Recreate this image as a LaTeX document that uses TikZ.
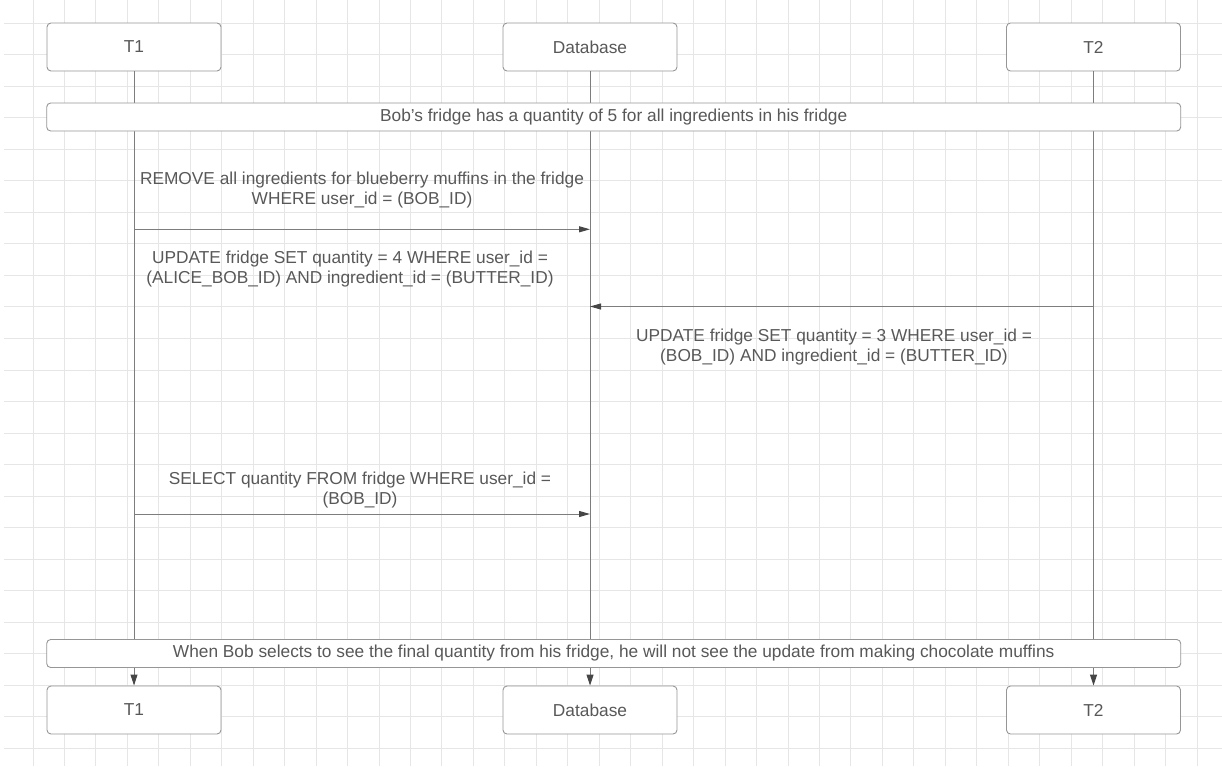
\documentclass[tikz,border=0pt]{standalone}
\usepackage{fontspec}
\setmainfont{Liberation Sans}
\usetikzlibrary{arrows.meta,positioning}
\definecolor{gridgray}{RGB}{230,230,230}
\definecolor{boxgray}{RGB}{150,150,150}
\definecolor{linegray}{RGB}{125,125,125}
\definecolor{tipgray}{RGB}{70,70,70}
\definecolor{textgray}{RGB}{88,88,88}

\begin{document}
\begin{tikzpicture}[x=1pt, y=-1pt,
  actor/.style={draw=boxgray, fill=white, line width=0.9pt, rounded corners=4pt,
    minimum width=174pt, minimum height=48pt, inner sep=0pt,
    text=textgray, font=\fontsize{17.3}{20.5}\selectfont},
  notebox/.style={draw=boxgray, fill=white, line width=0.9pt, rounded corners=4pt,
    minimum width=1134pt, minimum height=28pt, inner sep=0pt,
    text=textgray, font=\fontsize{17.3}{20.5}\selectfont},
  life/.style={linegray, line width=1pt, -{Triangle[length=11pt,width=7pt,color=tipgray]}},
  msg/.style={linegray, line width=1pt, -{Triangle[length=11pt,width=6pt,color=tipgray]}},
  lbl/.style={text=textgray, align=center, inner sep=0pt,
    font=\fontsize{17.3}{20.5}\selectfont}]
  \useasboundingbox (0,0) rectangle (1222,766);
  % --- background grid
  \foreach \gx in {0,...,37}
    \draw[gridgray, line width=1pt] ({33+31.46*\gx},0) -- ({33+31.46*\gx},766);
  \foreach \gy in {0,...,23}
    \draw[gridgray, line width=1pt] (4,{23.3+31.52*\gy}) -- (1222,{23.3+31.52*\gy});
  % --- participants
  \node[actor] (t1top) at (134,47) {T1};
  \node[actor] (dbtop) at (590,47) {Database};
  \node[actor] (t2top) at (1093.5,47) {T2};
  \node[actor] (t1bot) at (134,710) {T1};
  \node[actor] (dbbot) at (590,710) {Database};
  \node[actor] (t2bot) at (1093.5,710) {T2};
  % --- lifelines
  \draw[life] (t1top) -- (t1bot);
  \draw[life] (dbtop) -- (dbbot);
  \draw[life] (t2top) -- (t2bot);
  % --- notes across all lifelines
  \node[notebox] (start) at (613.7,117) {\raisebox{-2pt}{Bob's fridge has a quantity of 5 for all ingredients in his fridge}};
  \node[notebox] (final) at (613.7,653.5) {\raisebox{-2pt}{When Bob selects to see the final quantity from his fridge, he will not see the update from making chocolate muffins}};
  % --- messages
  \coordinate (y1) at (0,229.3);
  \coordinate (y2) at (0,306.5);
  \coordinate (y3) at (0,514);
  \draw[msg] (t1top |- y1) -- (dbtop |- y1);
  \draw[msg] (t2top |- y2) -- (dbtop |- y2);
  \draw[msg] (t1top |- y3) -- (dbtop |- y3);
  \node[lbl] (remove) at (362,190) {REMOVE all ingredients for blueberry muffins in the fridge\\WHERE user\_id = (BOB\_ID)};
  \node[lbl] (upd4) at (350,269) {UPDATE fridge SET quantity = 4 WHERE user\_id =\\(ALICE\_BOB\_ID) AND ingredient\_id = (BUTTER\_ID)};
  \node[lbl] (upd3) at (834,347) {UPDATE fridge SET quantity = 3 WHERE user\_id =\\(BOB\_ID) AND ingredient\_id = (BUTTER\_ID)};
  \node[lbl] (sel) at (360,490) {SELECT quantity FROM fridge WHERE user\_id =\\(BOB\_ID)};
\end{tikzpicture}
\end{document}
